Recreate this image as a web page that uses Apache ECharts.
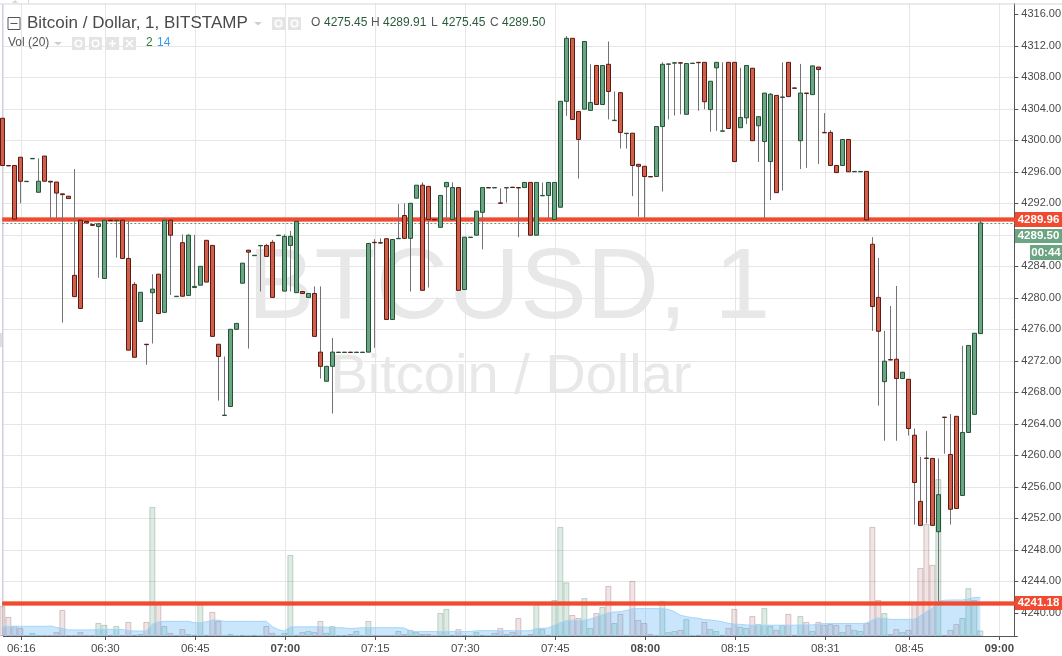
<!DOCTYPE html>
<html><head><meta charset="utf-8">
<style>html,body{margin:0;padding:0;background:#fff}#c{width:1062px;height:656px}</style>
<script src="https://cdn.jsdelivr.net/npm/echarts@6/dist/echarts.min.js"></script>
</head><body><div id="c"></div>
<script>
const open=[
4302.8,4296.8,4296.8,4297.85,4294.75,4297.65,4293.4,4298,4294.8,4294.7,
4293.2,4292.9,4282.85,4289.85,4289.7,4289.3,4289.05,4282.45,4289.85,4289.8,
4289.85,4285,4281.7,4277,4274.1,4280.65,4283,4278.15,4289.85,4280.15,
4287,4280.3,4281.3,4281.6,4287.3,4286.65,4274.1,4265.05,4266.2,4276,
4281.85,4286.05,4285.35,4286.6,4286.65,4287.05,4287.9,4280.85,4286.65,4280.65,
4280.8,4280.05,4280.55,4273.1,4269.4,4271.3,4273.05,4273.05,4273.1,4273.05,
4273.05,4273.1,4287.05,4287,4287.5,4277.25,4287.5,4290.45,4287.55,4292.65,
4294.3,4294.15,4289.95,4288.95,4294.1,4289.95,4294,4281.05,4287.65,4287.95,
4290.85,4294,4293.95,4292.05,4293.95,4294.05,4294,4294,4294.65,4287.95,
4292.95,4293,4289.95,4291.5,4304.95,4312.95,4303.65,4303.95,4303.8,4309.5,
4304.55,4309.65,4302.5,4306.05,4300.85,4300.9,4296.95,4296.7,4295.4,4295.4,
4301.75,4309.65,4309.8,4309.85,4303.3,4309.75,4309.9,4309.9,4303.9,4309.2,
4301.15,4309.9,4309.9,4301.6,4302.85,4309.15,4301.85,4299.85,4297.3,4305.7,
4305.45,4309.9,4306.65,4299.95,4306,4305.8,4309.3,4301,4301,4296.8,
4296.8,4300.1,4296,4296,4296.05,4286.8,4280.05,4269.35,4272.15,4272.2,
4269.75,4269.65,4262.55,4254.15,4259.65,4259.6,4250.3,4264.85,4260.1,4264.95,
4254.9,4262.9,4265.2,4275.45];
const close=[
4296.8,4296.75,4290,4294.8,4294.8,4297.7,4294.8,4294.8,4294.7,4293.3,
4293.1,4292.6,4280.15,4278.65,4289.5,4289.2,4289.4,4289.85,4289.8,4289.85,
4285,4273.35,4272.45,4280.7,4274.05,4281.1,4278,4289.85,4287.95,4280.2,
4280.2,4287.95,4281.45,4284,4282,4275.1,4272.55,4265.1,4276,4276.75,
4284.4,4285.8,4285.4,4286.65,4285.25,4280.05,4287.95,4287.8,4287.8,4289.7,
4280.55,4280.55,4275.1,4271.3,4271.3,4273.1,4273.1,4273.1,4273.05,4273.1,
4273.1,4286.9,4287,4286.95,4277.25,4287.4,4287.55,4287.55,4292,4294.3,
4280.95,4289.95,4289.9,4293,4294.65,4294,4280.95,4287.7,4287.7,4291,
4294,4293.95,4294,4292,4294,4294,4293.95,4294.65,4287.95,4294.65,
4293,4294.65,4294.65,4304.95,4312.95,4302.65,4300.1,4312.55,4304.8,4304.55,
4309.5,4306.2,4302.55,4301,4300.9,4296.8,4296.7,4295.4,4295.35,4301.75,
4309.65,4309.7,4309.85,4309.8,4309.75,4309.8,4309.85,4304.9,4307.5,4309.9,
4301.2,4301.5,4297.3,4302.9,4309.5,4299.95,4303,4306,4305.85,4293.35,
4305.5,4305.55,4306.6,4306,4305.95,4309.45,4309,4300.95,4296.8,4295.9,
4300.1,4296,4296.05,4296.05,4289.9,4278.9,4275.75,4271.95,4272.1,4269.75,
4270.55,4263.4,4256.55,4251.1,4259.6,4251.1,4255,4264.8,4253.15,4253.25,
4262.9,4273.95,4275.5,4289.5];
const low=[
4296.8,4296.75,4290,4292,4294.75,4297.65,4293.4,4294.8,4290,4290,
4276.85,4292.6,4280.15,4278.65,4289.5,4289.2,4282.55,4282.45,4289.8,4285.1,
4285,4273.35,4272.45,4277,4271.5,4274.2,4278,4278.15,4280.35,4280.15,
4280.2,4280.3,4281.3,4281.6,4282,4275.1,4266.95,4265.05,4266.2,4276,
4281.85,4273.55,4285.35,4280.8,4285.25,4280.05,4287.9,4280.85,4280.8,4280.65,
4280.55,4280.05,4275.1,4269.75,4269.4,4265.3,4273.05,4273.05,4273.05,4273.05,
4273.05,4273.1,4273.65,4286.95,4277.25,4277.25,4287.5,4287.55,4280.8,4292.65,
4280.95,4281.3,4289.9,4288.95,4289.95,4289.95,4280.95,4281.05,4287.65,4287.95,
4286.15,4293.95,4293.95,4292,4292.1,4294,4287.7,4294,4287.95,4287.95,
4292.95,4290.05,4289.95,4291.5,4303.1,4302.65,4295.15,4303.95,4303.8,4304.55,
4304.55,4302.65,4302.5,4298.95,4298.95,4292.9,4290.3,4290.1,4295.35,4295.4,
4293.5,4302.65,4303.15,4303.3,4303.3,4309.75,4303.75,4303.95,4301.1,4301.2,
4301.15,4301.5,4297.3,4301.6,4302.05,4299.95,4297.25,4290.1,4292.4,4293.35,
4293.6,4305.55,4306.6,4296.35,4296.5,4305.8,4297,4300.95,4296.8,4295.9,
4296.8,4296,4296,4296,4289.9,4275.8,4266.3,4261.85,4272.1,4261.85,
4269.75,4262.5,4251.2,4251.1,4251.35,4251.1,4241.5,4260.2,4251.2,4253.25,
4254.9,4262.9,4265.2,4275.45];
const high=[
4302.8,4296.8,4296.8,4297.85,4294.8,4297.7,4297.7,4298,4294.8,4294.7,
4293.2,4292.9,4296.35,4289.85,4289.7,4289.3,4289.4,4289.85,4289.85,4289.85,
4289.85,4289.85,4282,4280.7,4274.1,4283,4283,4289.85,4289.85,4280.2,
4288.05,4288.05,4288,4284,4287.3,4286.65,4274.1,4272.55,4276,4276.75,
4284.4,4286.05,4285.4,4286.65,4286.85,4287.35,4287.95,4288.05,4288.5,4289.7,
4280.8,4280.55,4281.45,4281.45,4271.3,4274.9,4273.1,4273.1,4273.1,4273.1,
4273.1,4286.9,4287.45,4287.55,4287.5,4287.4,4291.9,4292,4292,4294.3,
4294.65,4294.15,4289.95,4293,4294.65,4294.65,4294,4287.7,4287.7,4291,
4294,4294,4294,4293.9,4294,4294.05,4294,4294.65,4294.65,4294.65,
4294.65,4294.65,4294.65,4304.95,4313.25,4312.95,4303.65,4312.55,4309.65,4309.5,
4309.5,4312.55,4306.2,4306.05,4300.9,4300.9,4296.95,4296.7,4295.4,4301.75,
4309.9,4309.7,4309.85,4309.85,4309.75,4309.8,4309.9,4309.9,4307.5,4309.9,
4309.9,4309.9,4309.9,4309.2,4309.5,4309.15,4303,4306,4306,4305.7,
4309.9,4309.9,4306.65,4309.7,4306,4309.45,4309.3,4303.45,4301.3,4296.8,
4300.1,4300.1,4296.05,4296.05,4296.05,4287.7,4285.05,4275.8,4278.95,4281.5,
4270.55,4269.65,4263.4,4259.8,4263.1,4259.6,4259.6,4264.85,4265.25,4264.95,
4273.9,4273.95,4275.5,4289.91];
const volume=[
10.8,6.9,3.6,2.9,0.2,1.1,0.2,0.2,0.2,1.4,
9.4,0.2,0.2,1.4,0.2,0.2,4.7,4,0.4,3.6,
0.2,5.1,0.4,0.7,5.1,46.6,12.3,3.6,1.1,0.2,
2.5,0.7,0.4,11.9,0.4,8.7,5.4,0.1,0.7,0.1,
0.4,0.1,0.4,0.1,3.6,1.1,0.1,1.1,29.3,0.4,
1.4,1.8,1.4,5.4,1.1,3.6,0.2,0.4,0.7,1.8,
0.2,5.4,0.2,0.1,0.1,0.2,1.8,0.7,2.2,1.4,
0.7,0.7,0.1,8.3,9.8,0.4,2.5,0.4,0.1,1.4,
0.4,0.1,1.1,2.9,0.7,1.4,6.5,0.1,0.7,11.6,
2.5,0.4,13,39.4,19.4,7.6,6.5,13.7,2.9,8.3,
10.5,18.1,4.7,8,0.2,19.9,5.8,4.7,0.7,0.2,
12.7,1.4,1.8,2.2,6.1,0.2,0.4,5.1,2.5,1.8,
0.4,2.9,9.8,3.3,2.9,7.2,4.3,10.1,3.6,2.2,
4,8,0.4,7.2,5.1,1.8,5.1,4,4.3,4,
1.4,4,2.2,1.8,4.7,39.4,13,8.3,0.7,2.5,
1.4,2.2,12.3,24.6,40.5,25.7,56.7,0.4,2.2,4.3,
6.5,17.3,13,2];
const volumeMA=[
3.5,3.5,3.5,3.5,3.5,3.5,3.5,3.5,3.6,3.1,
2.8,2.2,2.2,2.2,2.2,2.2,2.4,2.4,2.4,2.4,
2.3,2,1.8,1.8,1.8,4.3,5.1,5.3,5.3,5.3,
5.3,5.3,4.8,4.8,5.1,5.8,5.7,5.3,5.3,5.3,
5.3,5.3,5.3,5.3,5.3,3.4,2.3,1.8,3.3,3.3,
3.3,3.3,3.3,3.3,3.2,3,3,2.9,2.7,2.8,
3,3,3,3,3,3,3,2.9,1.8,1.6,
1.6,1.6,1.6,1.6,1.6,1.6,1.6,1.6,1.6,1.9,
1.9,1.9,1.9,1.9,1.9,1.9,1.9,1.9,1.9,2.7,
2.8,2.9,3.9,4.8,5.5,5.7,5.7,5.7,6.1,6.9,
7.7,8.4,8.7,8.8,9.2,9.9,9.9,9.9,9.9,9.9,
9.9,9.6,8.8,7.5,7,6.6,6.4,5.9,5.8,5.5,
5.1,4.6,4.3,4.2,4,3.9,3.9,3.9,3.9,3.9,
3.9,3.9,3.9,4,4,4,4.3,4.5,4.5,4.5,
4.5,4.5,4.5,4.5,4.6,5.8,6.5,6.4,6,6,
6,6,6.1,7.3,8.8,10,12.7,12.9,13,13,
13,13.4,13.9,14];
const tickIndex=[3,17,32,47,62,77,92,107,122,137,151,166];
const tickLabels=['06:16','06:30','06:45','07:00','07:15','07:30','07:45','08:00','08:15','08:31','08:45','09:00'];
const boldTicks=['07:00','08:00','09:00'];
const priceTicks=[4240,4244,4248,4252,4256,4260,4264,4268,4272,4276,4280,4284,4288,4292,4296,4300,4304,4308,4312,4316];
const levels=[4289.96,4241.18];
const lastPrice=4289.5;

const SLOTS=170;
const categories=Array.from({length:SLOTS},(_,i)=>{const t=tickIndex.indexOf(i);return t>=0?tickLabels[t]:String(i);});
const isTick=i=>tickIndex.indexOf(i)>=0;
const FONT='"Liberation Sans",Arial,sans-serif';
const GRID='#e6e6e6';
const WIDTH=6*(SLOTS-1);

const chart=echarts.init(document.getElementById('c'),null,{renderer:'canvas',width:1062,height:656});

function tag(y,h,x,w,fill,text){
  return [
    {type:'rect',z:50,shape:{x:x,y:y,width:w,height:h},style:{fill:fill}},
    {type:'text',z:51,x:x+w/2,y:y+h/2,style:{text:text,fill:'#fff',font:'bold 11.5px '+FONT,align:'center',verticalAlign:'middle'}}
  ];
}
function label(x,y,text,fill,font){
  return {type:'text',z:20,x:x,y:y,style:{text:text,fill:fill,font:font,verticalAlign:'middle'}};
}
function square(x,y,s){return {type:'rect',z:20,shape:{x:x,y:y,width:s,height:s},style:{fill:'#e4e4e4'}};}
function ring(x,y,s){return {type:'circle',z:21,shape:{cx:x+s/2,cy:y+s/2,r:s/4},style:{fill:'none',stroke:'#fff',lineWidth:1.6}};}
function bar(x1,y1,x2,y2){return {type:'line',z:21,shape:{x1:x1,y1:y1,x2:x2,y2:y2},style:{stroke:'#fff',lineWidth:1.6}};}
function caret(x,y){return {type:'polygon',z:20,shape:{points:[[x,y],[x+8,y],[x+4,y+3.5]]},style:{fill:'#cfcfcf'}};}

const graphics=[
  {type:'text',z:-5,x:509,y:290,style:{text:'BTCUSD, 1',fill:'#e8e8e8',font:'100px '+FONT,align:'center',verticalAlign:'middle'}},
  {type:'text',z:-5,x:511,y:378,style:{text:'Bitcoin / Dollar',fill:'#e8e8e8',font:'56px '+FONT,align:'center',verticalAlign:'middle'}},
  {type:'rect',z:1,shape:{x:2,y:4,width:1.5,height:632},style:{fill:'#cfd1dc'}},
  {type:'rect',z:1,shape:{x:0,y:3.5,width:1062,height:1},style:{fill:'#d8d8d8'}},
  {type:'rect',z:1,shape:{x:28,y:0,width:1,height:3.5},style:{fill:'#d8d8d8'}},
  {type:'polygon',z:1,shape:{points:[[12,3],[18,3],[15,0]]},style:{fill:'#d8d8d8'}},
  {type:'rect',z:1,shape:{x:0,y:333,width:2,height:14},style:{fill:'#dddddd'}},
  {type:'rect',z:20,shape:{x:8,y:17.5,width:12,height:12},style:{fill:'#fff',stroke:'#555',lineWidth:1}},
  {type:'rect',z:21,shape:{x:10.5,y:23,width:7,height:1},style:{fill:'#555'}},
  label(27,23.5,'Bitcoin / Dollar, 1, BITSTAMP','#4a4a4a','17px '+FONT),
  caret(254,22),
  square(272,17,13),ring(272,17,13),square(288,17,13),ring(288,17,13),
  label(311,23,'O','#555','12px '+FONT),label(324,23,'4275.45','#2b5a3c','12px '+FONT),
  label(371,23,'H','#555','12px '+FONT),label(383,23,'4289.91','#2b5a3c','12px '+FONT),
  label(431,23,'L','#555','12px '+FONT),label(442,23,'4275.45','#2b5a3c','12px '+FONT),
  label(490,23,'C','#555','12px '+FONT),label(502,23,'4289.50','#2b5a3c','12px '+FONT),
  label(8,43,'Vol (20)','#555','12px '+FONT),
  caret(54,42),
  square(72,37,13),ring(72,37,13),square(89,37,13),ring(89,37,13),
  square(106,37,13),bar(109,43.5,116,43.5),bar(112.5,40,112.5,47),
  square(123,37,13),bar(126,40,133,47),bar(133,40,126,47),
  label(146,43,'2','#2e7d32','12px '+FONT),label(157,43,'14','#3a9af0','12px '+FONT),
  ...tag(212,15,1015,47,'#f04a30','4289.96'),
  ...tag(229,14,1015,47,'#6ba583','4289.50'),
  ...tag(245,15,1030,32,'#6ba583','00:44'),
  ...tag(596,14,1015,47,'#f04a30','4241.18')
];

chart.setOption({
  animation:false,
  backgroundColor:'#ffffff',
  grid:[
    {left:3.33,top:3.5,width:WIDTH,height:632.5,outerBoundsMode:'none'},
    {left:2.33,top:-17.2,width:WIDTH,height:661.5,outerBoundsMode:'none'},
    {left:2.33,top:82.6,width:WIDTH,height:553.4,outerBoundsMode:'none'}
  ],
  xAxis:[
    {gridIndex:0,type:'category',data:categories,boundaryGap:false,
     axisLine:{show:true,lineStyle:{color:'#555',width:1}},
     axisTick:{show:true,length:4,alignWithLabel:true,interval:isTick,lineStyle:{color:'#555'}},
     splitLine:{show:true,interval:isTick,lineStyle:{color:GRID,width:1}},
     axisLabel:{show:true,interval:isTick,margin:7,hideOverlap:false,
       fontFamily:FONT,fontSize:11.5,color:'#4a4a4a',
       formatter:v=>boldTicks.indexOf(v)>=0?'{b|'+v+'}':v,
       rich:{b:{fontWeight:'bold',fontFamily:FONT,fontSize:11.5,color:'#4a4a4a'}}}},
    {gridIndex:1,type:'category',data:categories,boundaryGap:false,show:false},
    {gridIndex:2,type:'category',data:categories,boundaryGap:false,show:false}
  ],
  yAxis:[
    {gridIndex:0,type:'value',min:0,max:1,position:'right',offset:-3,
     axisLine:{show:true,lineStyle:{color:'#555',width:1}},axisTick:{show:false},axisLabel:{show:false},splitLine:{show:false}},
    {gridIndex:1,type:'value',min:4236,max:4320,interval:4,position:'right',offset:-2,scale:true,
     axisLine:{show:false},
     axisTick:{show:true,length:4,customValues:priceTicks,lineStyle:{color:'#555'}},
     splitLine:{show:true,showMinLine:false,showMaxLine:false,lineStyle:{color:GRID,width:1}},
     axisLabel:{show:true,customValues:priceTicks,margin:7,fontFamily:FONT,fontSize:11,color:'#4a4a4a',
       formatter:v=>Number(v).toFixed(2)}},
    {gridIndex:2,type:'value',min:0,max:200,show:false,splitLine:{show:false}}
  ],
  series:[
    {name:'Volume',type:'bar',xAxisIndex:2,yAxisIndex:2,z:2,barWidth:6,
     data:volume.map((v,i)=>({value:v,itemStyle:close[i]>=open[i]
       ?{color:'rgba(107,165,131,0.22)',borderColor:'rgba(70,130,90,0.3)',borderWidth:1}
       :{color:'rgba(190,130,130,0.22)',borderColor:'rgba(140,80,80,0.3)',borderWidth:1}}))},
    {name:'Volume MA',type:'line',xAxisIndex:2,yAxisIndex:2,z:3,data:volumeMA,symbol:'none',
     lineStyle:{color:'#a6d4f8',width:1},areaStyle:{color:'rgba(66,165,245,0.4)'}},
    {name:'Wicks',type:'candlestick',xAxisIndex:1,yAxisIndex:1,z:6,barWidth:1,
     data:open.map((o,i)=>[o,close[i],low[i],high[i]]),
     itemStyle:{color:'#737375',color0:'#737375',borderColor:'#737375',borderColor0:'#737375',borderWidth:1}},
    {name:'BTCUSD',type:'candlestick',xAxisIndex:1,yAxisIndex:1,z:7,barWidth:4,
     data:open.map((o,i)=>[o,close[i],Math.min(o,close[i]),Math.max(o,close[i])]),
     itemStyle:{color:'#6ba583',color0:'#d0604a',borderColor:'#225437',borderColor0:'#5b1a13',borderWidth:1},
     markLine:{silent:true,symbol:'none',z:5,label:{show:false},animation:false,
       data:[
        {yAxis:levels[0],lineStyle:{color:'rgba(240,74,48,0.65)',width:5,type:'solid'}},
        {yAxis:levels[0],lineStyle:{color:'#f04a30',width:3,type:'solid'}},
        {yAxis:levels[1],lineStyle:{color:'rgba(240,74,48,0.65)',width:5,type:'solid'}},
        {yAxis:levels[1],lineStyle:{color:'#f04a30',width:3,type:'solid'}},
        {yAxis:lastPrice,lineStyle:{color:'#6f8f7b',width:1,type:[2,2]}}
       ]}}
  ],
  graphic:{elements:graphics}
});
</script></body></html>
